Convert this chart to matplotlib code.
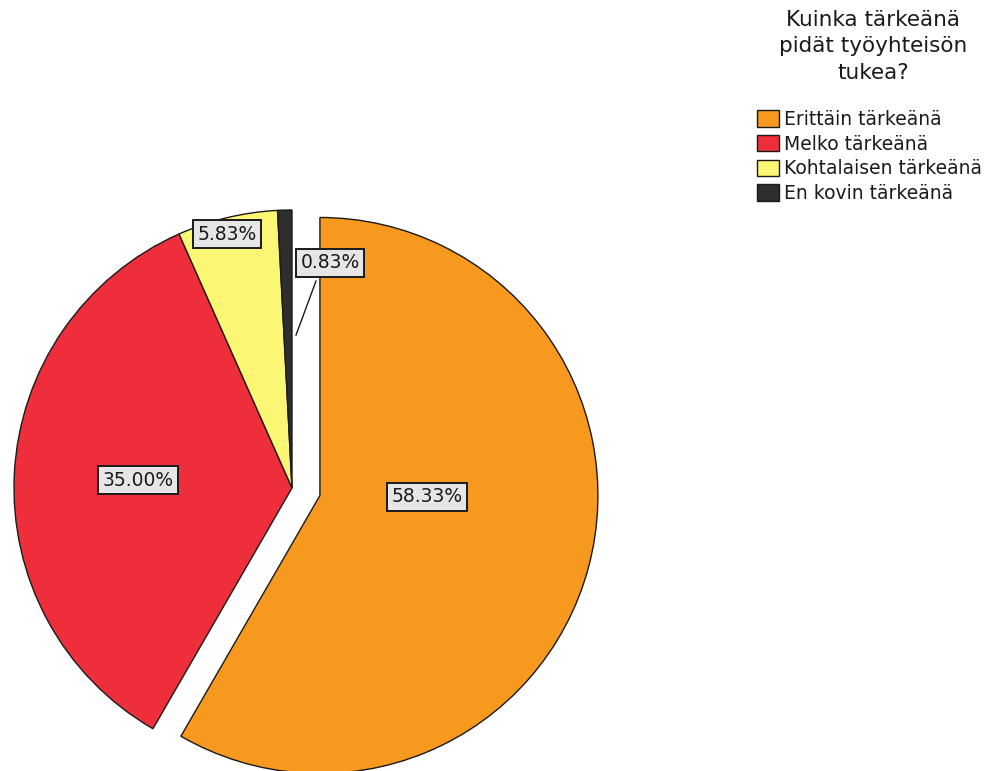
import matplotlib
matplotlib.use("Agg")
import matplotlib.pyplot as plt
import numpy as np

# Survey answers: how important is support from the work community
categories = ["Erittäin tärkeänä", "Melko tärkeänä", "Kohtalaisen tärkeänä", "En kovin tärkeänä"]
percentages = [58.33, 35.00, 5.83, 0.83]
colors = ["#F7991E", "#EE2E3A", "#FBF674", "#2E2E2E"]
legend_title = "Kuinka tärkeänä\npidät työyhteisön\ntukea?"

W, H = 1002, 771
plt.rcParams["font.family"] = ["DejaVu Sans"]

fig = plt.figure(figsize=(W / 100, H / 100), dpi=100)
ax = fig.add_axes([0, 0, 1, 1])

cx, cy, R = 292, H - 488, 278
wedges, _ = ax.pie(
    percentages,
    colors=colors,
    startangle=90,
    counterclock=False,
    explode=[0.104 * R, 0, 0, 0],
    center=(cx, cy),
    radius=R,
    wedgeprops=dict(edgecolor="#1a1a1a", linewidth=1.0),
)
ax.set_xlim(0, W)
ax.set_ylim(0, H)
ax.set_aspect("equal")
ax.axis("off")

box = dict(boxstyle="square,pad=0.22", facecolor="#E6E6E6", edgecolor="#1a1a1a", linewidth=1.4)
label_pos = [(427, 497), (138, 480), (227, 234), (330, 263)]
for pct, (px, py) in zip(percentages, label_pos):
    ax.text(px, H - py, f"{pct:.2f}%", ha="center", va="center", fontsize=13.5,
            color="#1a1a1a", bbox=box, zorder=5)

# leader line from the smallest slice to its label
w = wedges[3]
ang = np.deg2rad(w.theta1)
r = 0.55 * R
tip = (cx + r * np.cos(ang) + 4, cy + r * np.sin(ang))
ax.plot([tip[0], 316], [tip[1], H - 281], color="#1a1a1a", lw=1.0, zorder=4)

# legend heading
fig.text(873 / W, 1 - 10 / H, legend_title, ha="center", va="top", fontsize=15.5,
         linespacing=1.4, color="#1a1a1a")

leg = fig.legend(
    wedges, categories,
    loc="upper left",
    bbox_to_anchor=(757 / W, 1 - 110 / H),
    frameon=False,
    fontsize=13.5,
    handlelength=1.15,
    handleheight=0.95,
    handletextpad=0.28,
    labelspacing=0.3,
    borderpad=0.0,
    borderaxespad=0.0,
)
for t in leg.get_texts():
    t.set_color("#1a1a1a")

fig.savefig("out.png", dpi=100)
